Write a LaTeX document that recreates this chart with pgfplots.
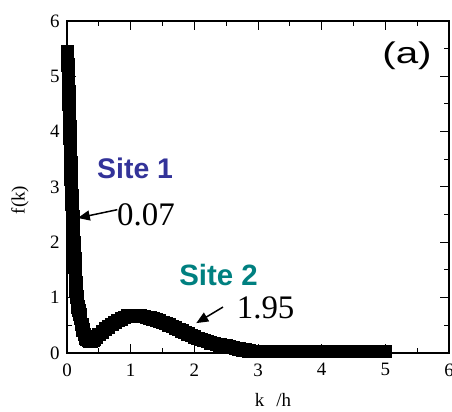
\documentclass[border=0pt]{standalone}
\usepackage{fontspec}
\setmainfont{Liberation Serif}
\newfontfamily\arial{Liberation Sans}
\usepackage{pgfplots}
\pgfplotsset{compat=1.18}
\usetikzlibrary{arrows.meta}
\definecolor{siteblue}{RGB}{51,51,153}
\definecolor{siteteal}{RGB}{0,128,128}
\begin{document}
\begin{tikzpicture}
\path[use as bounding box] (-67bp,-59bp) rectangle (385bp,353bp);
\begin{axis}[
 at={(0,0)}, anchor=south west,
 scale only axis, width=382bp, height=332bp,
 xmin=0, xmax=6, ymin=0, ymax=6,
 xtick={0,1,...,6}, ytick={0,1,...,6},
 minor tick num=1,
 tick align=inside,
 major tick length=9bp, minor tick length=5bp,
 every tick/.style={black, line width=1bp},
 axis line style={line width=1.5bp},
 tick label style={font=\fontsize{19}{19}\selectfont},
 /pgf/number format/assume math mode=true,
 xticklabel style={yshift=-7bp},
 yticklabel style={xshift=-4bp},
 clip=false,
]
\addplot[only marks, mark=square*, mark size=6.3bp, black] coordinates {
(0.005,5.45) (0.012,5.21) (0.02,4.97) (0.025,4.72) (0.03,4.50) (0.035,4.29) (0.04,4.09) (0.045,3.89)
(0.05,3.75) (0.052,3.6) (0.055,3.45) (0.058,3.3) (0.062,3.15) (0.066,3.0) (0.07,2.85) (0.075,2.7)
(0.08,2.58) (0.09,2.46) (0.095,2.3) (0.1,2.15) (0.105,2.0) (0.11,1.85) (0.117,1.7) (0.124,1.55)
(0.13,1.4) (0.136,1.27) (0.14,1.14) (0.15,1.02) (0.16,0.92) (0.17,0.84) (0.18,0.77) (0.195,0.7)
(0.21,0.63) (0.23,0.52) (0.25,0.42) (0.27,0.34) (0.29,0.28) (0.31,0.25) (0.33,0.23) (0.35,0.22)
(0.37,0.22) (0.40,0.23) (0.43,0.26) (0.46,0.29) (0.50,0.34) (0.55,0.39) (0.60,0.44) (0.65,0.48)
(0.70,0.52) (0.75,0.56) (0.80,0.59) (0.85,0.62) (0.90,0.65) (0.95,0.67) (1.00,0.68) (1.05,0.685)
(1.10,0.68) (1.15,0.675) (1.20,0.665) (1.25,0.65) (1.30,0.635) (1.35,0.62) (1.40,0.60) (1.45,0.58)
(1.50,0.56) (1.55,0.535) (1.60,0.51) (1.65,0.485) (1.70,0.46) (1.75,0.43) (1.80,0.40) (1.85,0.375)
(1.90,0.35) (1.95,0.32) (2.00,0.295) (2.05,0.27) (2.10,0.25) (2.15,0.23) (2.20,0.21) (2.25,0.19)
(2.30,0.175) (2.35,0.16) (2.40,0.15) (2.45,0.14) (2.50,0.13) (2.55,0.12) (2.60,0.105) (2.65,0.09)
(2.70,0.08) (2.75,0.065) (2.80,0.055) (2.85,0.045) (2.90,0.035) (2.95,0.03) (3.00,0.03)
(3.1,0.03) (3.2,0.03) (3.3,0.03) (3.4,0.03) (3.5,0.03) (3.6,0.03) (3.7,0.03) (3.8,0.03) (3.9,0.03)
(4.0,0.03) (4.1,0.03) (4.2,0.03) (4.3,0.03) (4.4,0.03) (4.5,0.03) (4.6,0.03) (4.7,0.03) (4.8,0.03)
(4.9,0.03) (5.0,0.03)
};
\node[font=\arial\bfseries\fontsize{28.5}{28.5}\selectfont, text=siteblue] at (axis cs:1.07,3.33) {Site 1};
\node[font=\fontsize{33}{33}\selectfont] at (axis cs:1.24,2.50) {0.07};
\draw[line width=1.5bp, -{Triangle[length=12bp,width=10bp]}] (axis cs:0.79,2.59) -- (axis cs:0.17,2.44);
\node[font=\arial\bfseries\fontsize{29.5}{29.5}\selectfont, text=siteteal] at (axis cs:2.38,1.41) {Site 2};
\node[font=\fontsize{33}{33}\selectfont] at (axis cs:3.12,0.81) {1.95};
\draw[line width=1.5bp, -{Triangle[length=12bp,width=10bp]}] (axis cs:2.45,0.83) -- (axis cs:2.03,0.54);
\node[font=\arial\fontsize{30}{30}\selectfont, xscale=1.35] at (axis cs:5.34,5.37) {(a)};
\end{axis}
\node[rotate=90, font=\fontsize{19}{19}\selectfont] at (-47bp,153bp) {f(k)};
\node[font=\fontsize{19}{19}\selectfont] at (206bp,-47bp) {k\hspace{12bp}/h};
\end{tikzpicture}
\end{document}
